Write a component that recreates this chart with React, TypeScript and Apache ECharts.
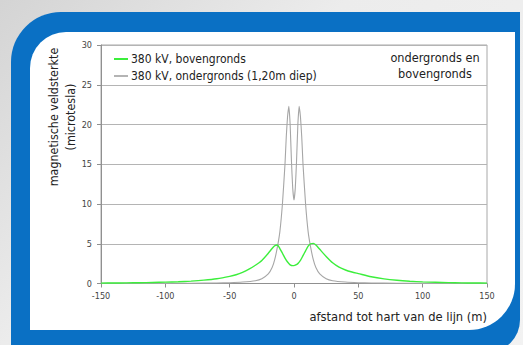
import React, { useEffect, useRef } from "react";
import * as echarts from "echarts";

const seriesNames = ["380 kV, bovengronds", "380 kV, ondergronds (1,20m diep)"];

const greenDistances = [-150, -140, -130, -120, -110, -100, -90, -80, -70, -60, -50, -45, -40, -35, -30, -25, -20, -17, -15, -13, -11, -9, -7, -5, -3, -1, 0, 1, 3, 5, 7, 9, 11, 13, 15, 17, 20, 25, 30, 35, 40, 45, 50, 60, 70, 80, 90, 100, 110, 120, 130, 140, 150];
const greenValues = [0.05, 0.06, 0.08, 0.1, 0.13, 0.17, 0.22, 0.3, 0.42, 0.6, 0.9, 1.1, 1.4, 1.8, 2.3, 2.9, 3.8, 4.4, 4.75, 4.85, 4.4, 3.8, 3.2, 2.7, 2.35, 2.25, 2.25, 2.3, 2.5, 2.9, 3.5, 4.1, 4.7, 5.0, 5.05, 4.85, 4.3, 3.4, 2.6, 2.05, 1.7, 1.45, 1.25, 0.85, 0.58, 0.4, 0.28, 0.2, 0.15, 0.11, 0.08, 0.06, 0.05];

const grayDistances = [-150, -125, -100, -80, -60, -50, -40, -30, -25, -20, -17, -15, -13, -11, -9, -7, -6, -5, -4, -3, -2, -1, 0, 1, 2, 3, 4, 5, 6, 7, 9, 11, 13, 15, 17, 20, 25, 30, 40, 50, 60, 80, 100, 125, 150];
const grayValues = [0.01, 0.015, 0.02, 0.03, 0.06, 0.1, 0.18, 0.35, 0.6, 1.2, 2.0, 3.0, 4.5, 6.5, 10, 15, 18.5, 21, 22.3, 20, 15.5, 12, 10.5, 12, 15.5, 20, 22.3, 21, 18.5, 15, 10, 6.5, 4.5, 3.0, 2.0, 1.2, 0.6, 0.35, 0.18, 0.1, 0.06, 0.03, 0.02, 0.015, 0.01];

const xTicks = { min: -150, max: 150, interval: 50 };
const yTicks = { min: 0, max: 30, interval: 5 };

const yAxisTitle = "magnetische veldsterkte\n(microtesla)";
const xAxisTitle = "afstand tot hart van de lijn (m)";
const cornerNote = "ondergronds en\nbovengronds";

const FONT = "'DejaVu Sans Condensed', 'Liberation Sans', sans-serif";

export default function App() {
  const ref = useRef<HTMLDivElement>(null);

  useEffect(() => {
    if (!ref.current) return;
    const chart = echarts.init(ref.current, undefined, { renderer: "svg" });
    const green = greenDistances.map((d, i) => [d, greenValues[i]]);
    const gray = grayDistances.map((d, i) => [d, grayValues[i]]);
    chart.setOption({
      animation: false,
      textStyle: { fontFamily: FONT },
      grid: {
        left: 101,
        top: 45,
        right: 36,
        bottom: 61.5,
        show: true,
        backgroundColor: "#ffffff",
        borderColor: "#a8a8a8",
        borderWidth: 1,
      },
      legend: {
        orient: "vertical",
        left: 109,
        top: 48,
        itemGap: 5,
        itemWidth: 14,
        itemHeight: 2,
        icon: "rect",
        textStyle: { fontSize: 12, color: "#222", fontFamily: FONT, padding: [0, 0, 0, -2] },
        data: seriesNames,
      },
      xAxis: {
        type: "value",
        min: xTicks.min,
        max: xTicks.max,
        interval: xTicks.interval,
        axisLine: { show: true, onZero: false, lineStyle: { color: "#909090" } },
        axisTick: { show: true, length: 4, lineStyle: { color: "#909090" } },
        splitLine: { show: false },
        axisLabel: { fontSize: 9, color: "#444", margin: 8, fontFamily: FONT },
      },
      yAxis: {
        type: "value",
        min: yTicks.min,
        max: yTicks.max,
        interval: yTicks.interval,
        axisLine: { show: true, onZero: false, lineStyle: { color: "#909090" } },
        axisTick: { show: true, length: 4, lineStyle: { color: "#909090" } },
        splitLine: { show: true, lineStyle: { color: "#b4b4b4", width: 1 } },
        axisLabel: { fontSize: 9, color: "#444", margin: 9, fontFamily: FONT },
      },
      series: [
        {
          name: seriesNames[0],
          type: "line",
          data: green,
          showSymbol: false,
          smooth: 0.25,
          z: 3,
          lineStyle: { color: "#3cee3c", width: 1.4 },
          itemStyle: { color: "#3cee3c" },
        },
        {
          name: seriesNames[1],
          type: "line",
          data: gray,
          showSymbol: false,
          smooth: 0.15,
          z: 2,
          lineStyle: { color: "#a6a6a6", width: 1.1 },
          itemStyle: { color: "#b4b4b4" },
        },
      ],
      graphic: [
        {
          type: "text",
          x: 61.5,
          y: 117,
          rotation: Math.PI / 2,
          style: {
            text: yAxisTitle,
            fontSize: 12.4,
            lineHeight: 17,
            fill: "#222",
            align: "center",
            verticalAlign: "middle",
            fontFamily: FONT,
          },
        },
        {
          type: "text",
          x: 487,
          y: 316,
          style: {
            text: xAxisTitle,
            fontSize: 12.8,
            fill: "#222",
            align: "right",
            verticalAlign: "middle",
            fontFamily: FONT,
          },
        },
        {
          type: "text",
          x: 435,
          y: 65.5,
          style: {
            text: cornerNote,
            fontSize: 12.6,
            lineHeight: 16,
            fill: "#222",
            align: "center",
            verticalAlign: "middle",
            fontFamily: FONT,
          },
        },
      ],
    });
    return () => chart.dispose();
  }, []);

  return (
    <div
      style={{
        position: "fixed",
        left: 0,
        top: 0,
        width: 523,
        height: 345,
        overflow: "hidden",
        background: "linear-gradient(135deg, #d4d4d4 0%, #ececec 40%, #f2f2f2 100%)",
      }}
    >
      <div
        style={{
          position: "absolute",
          left: 11,
          top: 12,
          width: 509,
          height: 340,
          background: "#0a70c4",
          borderRadius: "50px 0 32px 0",
        }}
      />
      <div
        style={{
          position: "absolute",
          left: 30,
          top: 32,
          width: 485,
          height: 298,
          background: "#ffffff",
          borderRadius: "36px 0 46px 0",
        }}
      />
      <div ref={ref} style={{ position: "absolute", left: 0, top: 0, width: 523, height: 345 }} />
    </div>
  );
}
